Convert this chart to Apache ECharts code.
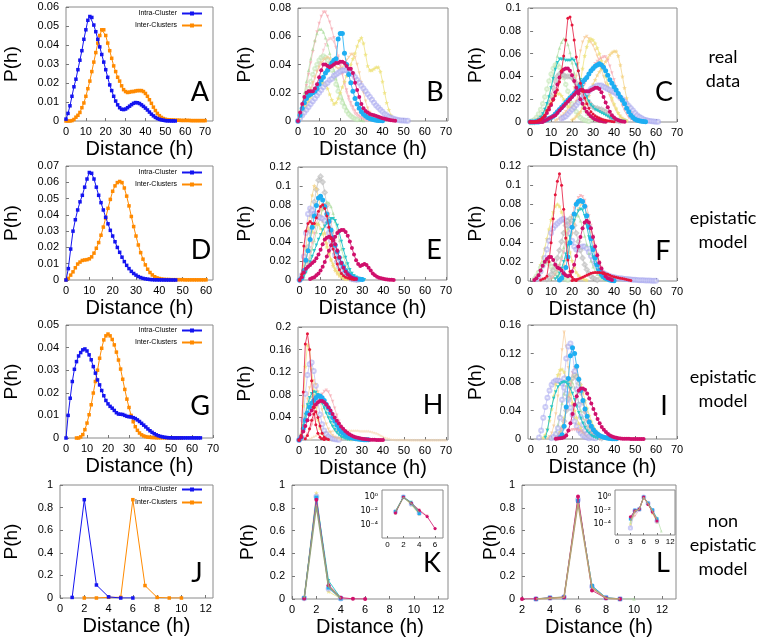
<!DOCTYPE html>
<html><head><meta charset="utf-8">
<script src="https://cdn.jsdelivr.net/npm/echarts@6/dist/echarts.min.js"></script>
<style>html,body{margin:0;padding:0;background:#fff}#c{width:760px;height:639px}</style>
</head><body><div id="c"></div>
<script>
// ---------- DATA ----------
const A_intra=[0.001,0.004,0.008,0.013,0.018,0.022,0.027,0.032,0.037,0.043,0.048,0.053,0.055,0.0545,0.0505,0.047,0.043,0.039,0.035,0.031,0.027,0.023,0.019,0.016,0.013,0.0105,0.0085,0.007,0.0062,0.006,0.0063,0.007,0.0078,0.0086,0.0093,0.0097,0.0096,0.0092,0.0085,0.0077,0.0068,0.0058,0.0047,0.0036,0.0027,0.0019,0.0013,0.0009,0.0006,0.0004,0.0002,0.0001,0.0001,0.00005,0.00005,0.00003];
const A_inter=[0,0,0,0.0002,0.0008,0.002,0.003,0.0045,0.007,0.0095,0.013,0.017,0.021,0.026,0.031,0.036,0.041,0.045,0.048,0.048,0.045,0.041,0.037,0.033,0.029,0.026,0.023,0.021,0.0185,0.0165,0.0155,0.015,0.0152,0.0155,0.0155,0.0158,0.016,0.016,0.016,0.0155,0.0145,0.013,0.0112,0.0093,0.0073,0.0055,0.004,0.0028,0.0019,0.0013,0.0009,0.0007,0.0006,0.0005,0.0005,0.0004,0.0004,0.0004,0.0003,0.0003,0.0003,0.0003,0.0003,0.0002,0.0002,0.0002,0.0002,0.0002,0.0002,0.0002,0.0002];
const D_intra=[0,0.007,0.019,0.03,0.037,0.043,0.048,0.052,0.057,0.062,0.066,0.0655,0.062,0.057,0.052,0.0475,0.043,0.0385,0.0345,0.0305,0.027,0.0235,0.02,0.017,0.014,0.0113,0.009,0.007,0.0053,0.004,0.003,0.0021,0.0015,0.001,0.0007,0.0005,0.0003,0.0002,0.0001,0.0001,0.00005,0.00005,0.00003,0.00003,0.00002,0.00002,0.00001,0.00001];
const D_inter=[0,0.001,0.003,0.005,0.0075,0.0098,0.011,0.012,0.0123,0.0125,0.013,0.0142,0.0165,0.0195,0.023,0.0275,0.0325,0.038,0.044,0.0495,0.0545,0.0578,0.0598,0.0605,0.0598,0.0565,0.0515,0.0455,0.039,0.0328,0.027,0.0215,0.0168,0.0128,0.0093,0.0066,0.0046,0.0031,0.002,0.0013,0.0009,0.0006,0.0004,0.0003,0.0003,0.0002,0.0002,0.0002,0.0002,0.0002,0.0002,0.0001,0.0001,0.0001,0.0001,0.0001,0.0001,0.0001,0.0001,0.0001,0.0001];
const G_intra=[0,0.01,0.0176,0.025,0.0304,0.0338,0.0363,0.0378,0.039,0.0394,0.0385,0.0368,0.0346,0.0316,0.0287,0.0257,0.0235,0.021,0.0187,0.0166,0.0151,0.014,0.0132,0.0122,0.0112,0.0106,0.0105,0.0104,0.01,0.0096,0.0094,0.0093,0.009,0.0086,0.008,0.0073,0.0065,0.0057,0.0049,0.004,0.0032,0.0025,0.0019,0.0014,0.001,0.0007,0.0005,0.0003,0.0002,0.0001,0.0001,0.00005,0.00005,0.00005,0.00005,0.00005,0.00005,0.00005,0.00005,0.00005,0.00005,0.00005,0.00005,0.00005,0.00005];
const G_inter=[0,0,0.0005,0.0015,0.0037,0.0066,0.0103,0.0147,0.0199,0.025,0.03,0.0353,0.0397,0.0434,0.0452,0.046,0.0452,0.0436,0.0412,0.038,0.0345,0.0305,0.026,0.0215,0.0172,0.0135,0.01,0.0072,0.005,0.0034,0.0022,0.0014,0.0009,0.0006,0.0004,0.0003,0.0002,0.0002,0.0001,0.0001,0.0001,0.0001,0.0001,0.0001,0.0001,0.0001,0.0001,0.0001,0.0001,0.0001,0.0001];
const J_intra=[0.005,0.87,0.115,0.01,0,0];
const J_inter=[0,0,0.006,0.006,0.87,0.11,0.005,0,0];

const B_pink=[0,0.004,0.01,0.017,0.025,0.033,0.041,0.049,0.056,0.063,0.069,0.074,0.077,0.077,0.074,0.07,0.065,0.059,0.052,0.045,0.039,0.033,0.027,0.022,0.017,0.013,0.01,0.007,0.005,0.0035,0.0025,0.0017,0.0012,0.0008,0.0005,0.0003,0.0002,0.0001];
const B_rose=[0,0.002,0.005,0.008,0.012,0.016,0.02,0.025,0.03,0.035,0.04,0.045,0.05,0.054,0.057,0.058,0.058,0.056,0.052,0.046,0.04,0.033,0.026,0.02,0.015,0.011,0.008,0.005,0.0035,0.0022,0.0014,0.0008,0.0005,0.0003];
const B_green=[0,0.005,0.012,0.02,0.028,0.036,0.044,0.051,0.057,0.062,0.065,0.065,0.063,0.059,0.054,0.048,0.042,0.036,0.03,0.025,0.02,0.016,0.012,0.009,0.0065,0.0045,0.003,0.002,0.0013,0.0008,0.0005,0.0003];
const B_green2=[0,0.003,0.008,0.013,0.018,0.023,0.028,0.033,0.037,0.04,0.043,0.045,0.046,0.045,0.043,0.04,0.036,0.031,0.026,0.021,0.017,0.013,0.01,0.007,0.005,0.0035,0.0025,0.0015,0.001];
const B_orange=[0,0.003,0.007,0.011,0.015,0.019,0.023,0.027,0.031,0.035,0.038,0.041,0.043,0.044,0.045,0.044,0.042,0.04,0.038,0.037,0.037,0.038,0.04,0.043,0.045,0.047,0.047,0.045,0.04,0.034,0.027,0.02,0.014,0.009,0.006,0.004,0.0025,0.0015,0.001,0.0005];
const B_yellow=[0,0.002,0.005,0.008,0.011,0.014,0.017,0.02,0.022,0.024,0.026,0.027,0.027,0.026,0.023,0.019,0.015,0.012,0.013,0.016,0.02,0.024,0.028,0.032,0.036,0.04,0.044,0.048,0.053,0.057,0.059,0.055,0.047,0.039,0.036,0.036,0.037,0.038,0.038,0.035,0.028,0.02,0.013,0.008,0.004,0.002,0.001];
const B_lav=[0,0.002,0.004,0.006,0.008,0.01,0.012,0.014,0.016,0.018,0.02,0.022,0.024,0.026,0.027,0.029,0.03,0.032,0.033,0.034,0.035,0.036,0.036,0.036,0.035,0.034,0.033,0.031,0.029,0.027,0.025,0.023,0.021,0.019,0.017,0.015,0.013,0.011,0.0095,0.008,0.0065,0.005,0.004,0.003,0.0023,0.0017,0.0012,0.0009,0.0006,0.0004,0.0003,0.0002,0.0001];
const B_mag=[0,0.006,0.012,0.017,0.02,0.021,0.021,0.021,0.023,0.026,0.031,0.036,0.04,0.04,0.039,0.038,0.039,0.04,0.041,0.041,0.042,0.042,0.041,0.039,0.037,0.037,0.034,0.027,0.022,0.017,0.012,0.009,0.007,0.006,0.005,0.0045,0.004,0.0035,0.003,0.0025,0.002,0.0016,0.0012,0.0009,0.0006,0.0003,0.0001];
const B_cyan=[0,0.004,0.009,0.013,0.016,0.018,0.019,0.02,0.021,0.023,0.026,0.029,0.031,0.034,0.036,0.039,0.041,0.043,0.044,0.058,0.062,0.062,0.048,0.04,0.033,0.027,0.021,0.016,0.012,0.009,0.0065,0.0048,0.0035,0.0025,0.0018,0.0013,0.0009,0.0006,0.0004,0.0003,0.0002];

const C_green=[0,0,0,0.001,0.002,0.004,0.007,0.011,0.016,0.023,0.031,0.04,0.05,0.058,0.065,0.07,0.073,0.072,0.068,0.061,0.052,0.043,0.034,0.026,0.019,0.014,0.01,0.007,0.005,0.0035,0.0025,0.0017,0.0011,0.0007,0.0004,0.0002];
const C_green2=[0,0.001,0.002,0.004,0.007,0.011,0.016,0.022,0.029,0.036,0.042,0.047,0.05,0.05,0.048,0.044,0.039,0.033,0.027,0.021,0.016,0.012,0.009,0.006,0.004,0.0025,0.0015,0.001,0.0005];
const C_gray=[0,0,0,0.001,0.002,0.003,0.005,0.008,0.012,0.017,0.023,0.03,0.036,0.04,0.042,0.042,0.041,0.04,0.04,0.04,0.039,0.037,0.034,0.031,0.028,0.025,0.022,0.019,0.017,0.015,0.013,0.012,0.012,0.011,0.011,0.01,0.009,0.007,0.005,0.0035,0.0025,0.0015,0.001,0.0005];
const C_orange=[0.001,0.002,0.003,0.005,0.007,0.009,0.012,0.016,0.022,0.03,0.04,0.051,0.062,0.07,0.074,0.075,0.073,0.07,0.067,0.063,0.058,0.052,0.046,0.04,0.034,0.028,0.023,0.018,0.014,0.01,0.007,0.005,0.003,0.002,0.001];
const C_yellow=[0.001,0.003,0.006,0.01,0.014,0.018,0.021,0.024,0.025,0.025,0.023,0.02,0.017,0.014,0.013,0.013,0.014,0.018,0.025,0.035,0.047,0.058,0.066,0.071,0.073,0.072,0.069,0.065,0.06,0.054,0.047,0.04,0.033,0.027,0.021,0.016,0.012,0.008,0.005,0.003,0.002,0.001];
const C_gold=[0.002,0.003,0.005,0.007,0.009,0.012,0.015,0.019,0.023,0.028,0.033,0.037,0.041,0.044,0.047,0.05,0.053,0.056,0.059,0.061,0.062,0.062,0.058,0.05,0.04,0.03,0.021,0.014,0.009,0.005,0.003,0.002,0.001];
const C_pink=[0.002,0.003,0.005,0.007,0.009,0.012,0.015,0.018,0.021,0.025,0.029,0.033,0.037,0.041,0.045,0.048,0.051,0.053,0.055,0.056,0.057,0.057,0.054,0.049,0.043,0.037,0.031,0.025,0.019,0.014,0.01,0.007,0.004,0.0025,0.0015,0.001];
const C_lav=[0.003,0.004,0.005,0.007,0.009,0.011,0.013,0.015,0.017,0.019,0.021,0.023,0.025,0.027,0.029,0.03,0.031,0.032,0.032,0.032,0.031,0.03,0.029,0.028,0.027,0.026,0.025,0.023,0.021,0.02,0.018,0.016,0.014,0.012,0.01,0.008,0.006,0.0045,0.0035,0.0025,0.0018,0.0013,0.0009,0.0006,0.0004,0.0003,0.0002];
const C_teal=[0,0,0,0.001,0.002,0.004,0.007,0.011,0.016,0.022,0.03,0.038,0.046,0.052,0.055,0.055,0.055,0.054,0.054,0.054,0.055,0.054,0.05,0.044,0.037,0.031,0.026,0.022,0.018,0.015,0.013,0.011,0.01,0.009,0.008,0.007,0.006,0.005,0.004,0.003,0.0025,0.002,0.0015,0.001,0.0007,0.0005];
const C_mag1=[0,0,0,0,0.001,0.002,0.003,0.005,0.008,0.011,0.015,0.02,0.026,0.033,0.039,0.044,0.046,0.047,0.047,0.045,0.041,0.036,0.03,0.025,0.02,0.016,0.012,0.009,0.007,0.005,0.0035,0.0025,0.0018,0.0012,0.0008,0.0005,0.0003];
const C_mag2=[0,0,0,0,0,0,0,0.001,0.002,0.003,0.004,0.005,0.006,0.008,0.01,0.012,0.014,0.016,0.018,0.02,0.022,0.024,0.026,0.027,0.028,0.028,0.027,0.027,0.027,0.028,0.029,0.03,0.03,0.029,0.026,0.022,0.017,0.013,0.009,0.006,0.004,0.0025,0.0015,0.0009,0.0005,0.0003];
const C_cyan=[0,0,0,0,0,0.0005,0.001,0.0015,0.002,0.003,0.004,0.005,0.007,0.009,0.011,0.013,0.015,0.017,0.019,0.021,0.023,0.025,0.027,0.03,0.033,0.035,0.037,0.039,0.042,0.045,0.047,0.049,0.05,0.051,0.05,0.048,0.045,0.041,0.037,0.034,0.031,0.028,0.025,0.022,0.019,0.016,0.012,0.009,0.006,0.004,0.0025,0.0015,0.001,0.0006,0.0004,0.0002];
const C_red=[0,0,0,0.0005,0.001,0.002,0.004,0.006,0.01,0.013,0.016,0.019,0.023,0.028,0.035,0.045,0.058,0.072,0.091,0.092,0.085,0.072,0.057,0.045,0.034,0.027,0.021,0.016,0.012,0.009,0.007,0.0055,0.0044,0.0035,0.0027,0.002,0.0015,0.0011,0.0008,0.0005,0.0003];

const E_gray=[0,0.002,0.008,0.02,0.035,0.052,0.068,0.083,0.096,0.106,0.11,0.104,0.093,0.079,0.064,0.05,0.038,0.028,0.02,0.014,0.0095,0.0065,0.0043,0.0028,0.0018,0.0011,0.0007,0.0004];
const E_gold=[0,0.004,0.015,0.033,0.055,0.075,0.09,0.1,0.097,0.088,0.076,0.063,0.05,0.039,0.029,0.021,0.015,0.01,0.007,0.0045,0.003,0.002,0.001];
const E_green=[0,0.001,0.004,0.009,0.016,0.024,0.033,0.042,0.051,0.06,0.068,0.075,0.08,0.083,0.082,0.078,0.071,0.062,0.052,0.042,0.033,0.025,0.018,0.013,0.009,0.006,0.004,0.0025,0.0015,0.001];
const E_lav=[0,0.005,0.025,0.05,0.07,0.076,0.074,0.07,0.068,0.067,0.066,0.065,0.063,0.058,0.05,0.042,0.034,0.026,0.019,0.014,0.01,0.007,0.005,0.0033,0.0022,0.0014,0.0009,0.0005,0.0003];
const E_pink=[0,0.002,0.006,0.012,0.02,0.029,0.039,0.049,0.059,0.068,0.075,0.079,0.08,0.077,0.07,0.061,0.051,0.041,0.032,0.024,0.017,0.012,0.008,0.005,0.003,0.002,0.001];
const E_yellow=[0,0.003,0.01,0.02,0.031,0.042,0.051,0.057,0.06,0.059,0.055,0.049,0.042,0.035,0.028,0.022,0.017,0.012,0.009,0.006,0.004,0.0025,0.0015,0.001];
const E_teal=[0,0.001,0.004,0.008,0.013,0.019,0.025,0.031,0.037,0.043,0.048,0.053,0.057,0.06,0.063,0.065,0.065,0.063,0.058,0.05,0.041,0.032,0.024,0.017,0.011,0.007,0.0045,0.0028,0.0017,0.001,0.0006,0.0003];
const E_cyan=[0,0.002,0.01,0.021,0.031,0.043,0.056,0.068,0.079,0.087,0.089,0.085,0.078,0.07,0.062,0.053,0.045,0.037,0.03,0.024,0.018,0.014,0.01,0.007,0.005,0.0035,0.0025,0.0017,0.0011,0.0007,0.0004];
const E_mag1=[0,0.003,0.008,0.012,0.014,0.016,0.018,0.02,0.023,0.027,0.032,0.038,0.043,0.045,0.046,0.045,0.043,0.038,0.031,0.024,0.018,0.013,0.009,0.006,0.004,0.0025,0.0015,0.001];
const E_mag2=[0.001,0.002,0.003,0.005,0.007,0.01,0.014,0.019,0.025,0.031,0.037,0.042,0.046,0.05,0.052,0.053,0.053,0.051,0.047,0.041,0.034,0.027,0.021,0.017,0.015,0.016,0.017,0.016,0.013,0.01,0.007,0.005,0.0035,0.0025,0.0018,0.0012,0.0008,0.0005,0.0003,0.0002,0.0001];
const E_red=[0,0.006,0.036,0.052,0.06,0.062,0.06,0.06,0.066,0.073,0.078,0.08,0.076,0.068,0.056,0.044,0.033,0.024,0.017,0.011,0.007,0.0045,0.003,0.002,0.0012,0.0008,0.0005];

const F_yellow=[0.002,0.005,0.01,0.017,0.025,0.034,0.044,0.054,0.064,0.072,0.078,0.08,0.078,0.072,0.063,0.052,0.041,0.03,0.021,0.014,0.009,0.006,0.004,0.0025,0.0015,0.001];
const F_lav=[0.002,0.005,0.01,0.016,0.024,0.033,0.042,0.05,0.055,0.058,0.06,0.062,0.064,0.065,0.063,0.058,0.05,0.042,0.036,0.033,0.033,0.035,0.036,0.036,0.034,0.03,0.026,0.022,0.018,0.015,0.012,0.01,0.008,0.007,0.006,0.005,0.0045,0.004,0.0035,0.003,0.0028,0.0025,0.0022,0.002,0.0018,0.0016,0.0014,0.0012,0.001,0.0009,0.0008,0.0007,0.0006,0.0005,0.0004,0.0003,0.0002,0.0002];
const F_green2=[0.002,0.005,0.009,0.014,0.018,0.02,0.02,0.018,0.015,0.012,0.009,0.007,0.005,0.004,0.003,0.002,0.001];
const F_green=[0.002,0.004,0.007,0.012,0.018,0.026,0.035,0.045,0.055,0.063,0.068,0.07,0.07,0.068,0.063,0.056,0.047,0.038,0.029,0.021,0.015,0.01,0.007,0.0045,0.003,0.002,0.001];
const F_gray=[0.002,0.004,0.007,0.011,0.017,0.024,0.032,0.041,0.05,0.058,0.063,0.065,0.063,0.058,0.05,0.041,0.032,0.024,0.017,0.012,0.008,0.005,0.003,0.002,0.001];
const F_orange=[0.002,0.004,0.007,0.011,0.016,0.022,0.03,0.039,0.049,0.059,0.068,0.075,0.079,0.08,0.077,0.07,0.061,0.05,0.04,0.03,0.022,0.015,0.01,0.006,0.004,0.002,0.001];
const F_pink=[0.002,0.004,0.007,0.011,0.016,0.022,0.03,0.039,0.049,0.059,0.068,0.076,0.082,0.087,0.089,0.088,0.084,0.077,0.068,0.058,0.047,0.037,0.028,0.02,0.014,0.009,0.006,0.004,0.0025,0.0015,0.001];
const F_teal=[0.002,0.004,0.008,0.013,0.02,0.028,0.037,0.046,0.055,0.063,0.069,0.073,0.075,0.074,0.068,0.058,0.046,0.035,0.025,0.017,0.011,0.007,0.004,0.0025,0.0015,0.001];
const F_cyan=[0.001,0.003,0.007,0.014,0.025,0.04,0.056,0.07,0.08,0.083,0.084,0.083,0.078,0.068,0.056,0.044,0.033,0.024,0.017,0.011,0.007,0.0045,0.003,0.002,0.001,0.0006,0.0003];
const F_mag=[0.001,0.003,0.006,0.011,0.016,0.02,0.023,0.025,0.025,0.022,0.017,0.014,0.013,0.011,0.008,0.006,0.005,0.006,0.01,0.017,0.026,0.036,0.046,0.055,0.061,0.063,0.061,0.055,0.046,0.036,0.027,0.019,0.013,0.008,0.005,0.003,0.002,0.001];
const F_red=[0.001,0.002,0.003,0.005,0.02,0.04,0.065,0.09,0.104,0.112,0.1,0.075,0.045,0.022,0.01,0.004,0.0015,0.0005];
const F_red2=[0.0005,0.001,0.0015,0.002,0.003,0.004,0.005,0.006,0.007,0.008,0.0085,0.009,0.009,0.009,0.0085,0.008,0.0075,0.007,0.006,0.005,0.0045,0.004,0.0035,0.003,0.0025,0.002,0.0015,0.001,0.0005];

const H_paleor=[0.002,0.004,0.006,0.008,0.01,0.011,0.012,0.013,0.014,0.015,0.016,0.016,0.017,0.017,0.017,0.017,0.017,0.017,0.017,0.017,0.017,0.017,0.017,0.017,0.016,0.016,0.016,0.016,0.016,0.015,0.014,0.013,0.012,0.01,0.008,0.006,0.004,0.003,0.002,0.001,0.0008,0.0006,0.0005,0.0004,0.0004,0.0003,0.0003,0.0003,0.0002,0.0002,0.0002,0.0002,0.0002,0.0002,0.0002,0.0002,0.0002,0.0002,0.0002,0.0002,0.0002,0.0002,0.0002,0.0002,0.0002,0.0002];
const H_pink=[0.002,0.005,0.01,0.017,0.026,0.037,0.05,0.062,0.073,0.081,0.086,0.088,0.085,0.078,0.068,0.056,0.044,0.033,0.024,0.017,0.011,0.007,0.0045,0.003,0.002,0.001];
const H_yellow=[0,0.01,0.06,0.13,0.168,0.16,0.125,0.088,0.058,0.036,0.021,0.012,0.007,0.004,0.002,0.001];
const H_lav=[0,0.005,0.035,0.082,0.115,0.134,0.137,0.122,0.096,0.068,0.045,0.028,0.017,0.01,0.006,0.0035,0.002,0.0012,0.0007,0.0004];
const H_orange=[0,0.004,0.02,0.045,0.072,0.092,0.103,0.105,0.098,0.085,0.069,0.053,0.039,0.028,0.019,0.013,0.008,0.005,0.003,0.002,0.001];
const H_green=[0,0.005,0.022,0.042,0.058,0.07,0.077,0.08,0.08,0.078,0.073,0.066,0.058,0.05,0.042,0.034,0.027,0.021,0.016,0.012,0.008,0.006,0.004,0.0025,0.0015,0.001];
const H_teal=[0,0.006,0.025,0.045,0.062,0.075,0.082,0.085,0.084,0.08,0.073,0.065,0.056,0.047,0.039,0.031,0.024,0.018,0.013,0.009,0.006,0.004,0.0025,0.0015,0.001];
const H_cyan=[0,0.005,0.02,0.035,0.048,0.058,0.065,0.07,0.075,0.078,0.078,0.075,0.07,0.063,0.056,0.048,0.04,0.033,0.026,0.02,0.015,0.012,0.009,0.007,0.005,0.004,0.003,0.0022,0.0016,0.0012,0.0008,0.0006,0.0004,0.0003];
const H_mag=[0,0.005,0.015,0.025,0.035,0.045,0.052,0.058,0.063,0.067,0.069,0.069,0.067,0.063,0.058,0.052,0.046,0.04,0.034,0.029,0.024,0.02,0.016,0.013,0.01,0.008,0.006,0.005,0.004,0.003,0.0022,0.0016,0.0012,0.0009,0.0006,0.0004,0.0003,0.0002,0.0001,0.0001,0];
const H_red2=[0.002,0.008,0.02,0.035,0.046,0.05,0.04,0.025,0.012,0.005,0.002,0.001];
const H_red=[0,0.008,0.085,0.17,0.188,0.16,0.105,0.058,0.027,0.012,0.005,0.002,0.001];

const I_orange=[0.001,0.003,0.008,0.018,0.035,0.06,0.09,0.125,0.15,0.13,0.1,0.07,0.046,0.029,0.018,0.011,0.007,0.004,0.0025,0.0015,0.001];
const I_lav2=[0.002,0.012,0.03,0.045,0.058,0.068,0.076,0.08,0.082,0.082,0.081,0.078,0.072,0.064,0.055,0.044,0.034,0.025,0.018,0.012,0.008,0.005,0.003,0.002,0.001];
const I_yellow=[0.002,0.006,0.014,0.026,0.042,0.06,0.077,0.09,0.097,0.098,0.094,0.086,0.075,0.063,0.051,0.04,0.03,0.022,0.016,0.011,0.008,0.005,0.003,0.002,0.001];
const I_yellow2=[0.002,0.005,0.01,0.018,0.03,0.045,0.06,0.074,0.085,0.09,0.09,0.085,0.076,0.065,0.054,0.043,0.033,0.025,0.018,0.013,0.009,0.006,0.004,0.0025,0.0015,0.001];
const I_teal=[0.002,0.012,0.03,0.045,0.057,0.066,0.073,0.077,0.079,0.08,0.079,0.076,0.071,0.064,0.055,0.046,0.037,0.029,0.022,0.016,0.011,0.008,0.005,0.003,0.002,0.001];
const I_green=[0.001,0.004,0.01,0.02,0.034,0.05,0.064,0.075,0.081,0.082,0.079,0.072,0.062,0.051,0.04,0.03,0.022,0.015,0.01,0.0065,0.004,0.0025,0.0015,0.001];
const I_gray=[0.001,0.003,0.007,0.014,0.025,0.04,0.057,0.073,0.085,0.09,0.087,0.078,0.065,0.051,0.038,0.027,0.018,0.012,0.008,0.005,0.003,0.002,0.001];
const I_pink2=[0.001,0.003,0.007,0.014,0.025,0.04,0.058,0.077,0.093,0.1,0.097,0.085,0.069,0.052,0.037,0.025,0.016,0.01,0.006,0.0035,0.002,0.001];
const I_pink=[0.002,0.004,0.007,0.01,0.012,0.013,0.013,0.013,0.012,0.011,0.009,0.007,0.005,0.0035,0.0025,0.0015,0.001];
const I_lav=[0.001,0.003,0.007,0.015,0.03,0.055,0.085,0.113,0.13,0.134,0.12,0.095,0.07,0.048,0.031,0.02,0.012,0.007,0.004,0.0025,0.0015,0.001];
const I_cyan=[0.002,0.006,0.018,0.045,0.085,0.117,0.128,0.12,0.102,0.084,0.068,0.054,0.042,0.032,0.024,0.018,0.013,0.0095,0.007,0.005,0.0035,0.0025,0.0018,0.0012,0.0008,0.0005,0.0003,0.0002];
const I_mag=[0.0003,0.0006,0.001,0.0015,0.0025,0.005,0.012,0.022,0.035,0.048,0.06,0.068,0.071,0.071,0.069,0.064,0.057,0.05,0.042,0.035,0.028,0.022,0.017,0.013,0.01,0.007,0.005,0.0035,0.0025,0.0018,0.0012,0.0008,0.0005,0.0003,0.0002,0.0002,0.0001,0.0001,0.0001,0.0001,0.0001,0.0001,0.0001];

const K_yellow=[0.004,0.93,0.065,0.003];
const K_pink=[0.006,0.85,0.13,0.014,0.002];
const K_lav=[0.007,0.9,0.09,0.005];
const K_teal=[0.006,0.88,0.16,0.008];
const K_sky=[0.008,0.89,0.1,0.004];
const K_mag=[0.005,0.87,0.12,0.011,0.0015,0.00003];
const K_olive=[0.008,0.82,0.11,0.006];

const L_yellow=[0.0001,0.006,0.014,0.88,0.1,0.004,0.0002];
const L_lav=[0.00003,0.009,0.015,0.87,0.11,0.01,0.0003];
const L_green=[0.0002,0.01,0.016,0.85,0.12,0.008,0.001,0.00001];
const L_pink=[0.001,0.0015,0.012,0.87,0.09,0.006,0.0004];
const L_sky=[0.0006,0.011,0.015,0.86,0.115,0.012,0.0006];
const L_mag=[0,0.0012,0.009,0.016,0.9,0.075,0.006,0.0003];
const L_tan=[0.0003,0.008,0.015,0.84,0.1,0.008,0.0005];

// tick values
const T70=[0,10,20,30,40,50,60,70], T60=[0,10,20,30,40,50,60];
const TK12=[0,2,4,6,8,10,12], TL12=[2,4,6,8,10,12];
const Y06=[0,0.01,0.02,0.03,0.04,0.05,0.06], Y07=[0,0.01,0.02,0.03,0.04,0.05,0.06,0.07], Y05=[0,0.01,0.02,0.03,0.04,0.05];
const Y08=[0,0.02,0.04,0.06,0.08], Y10=[0,0.02,0.04,0.06,0.08,0.1], Y12=[0,0.02,0.04,0.06,0.08,0.1,0.12];
const Y20=[0,0.04,0.08,0.12,0.16,0.2], Y16=[0,0.04,0.08,0.12,0.16], Y1=[0,0.2,0.4,0.6,0.8,1];
const TKi=[0,2,4,6], TLi=[0,3,6,9,12];

// ---------- STYLES ----------
const STAR='path://M0,-10L2.9,-4L9.5,-3.1L4.8,1.5L5.9,8.1L0,5L-5.9,8.1L-4.8,1.5L-9.5,-3.1L-2.9,-4Z';
const STY={
  blue:{c:'#1414f0',sym:'rect',sz:3.5,lw:1,z:5},
  orng:{c:'#ff8a00',sym:'rect',sz:3.5,lw:1,z:4},
  pink:{c:'#f5a0aa',sym:'triangle',rot:180,sz:3.5,op:0.6},
  rose:{c:'#f6bcc4',sym:'triangle',rot:180,sz:3.5,op:0.6},
  green:{c:'#a6da98',sym:'triangle',sz:3.5,op:0.6},
  green2:{c:'#c0e6b2',sym:'emptyCircle',sz:3.5,op:0.6},
  yellow:{c:'#ede27a',sym:STAR,sz:4.5,op:0.75},
  gold:{c:'#f4d07c',sym:STAR,sz:4.5,op:0.7},
  orange:{c:'#f7c48a',sym:'triangle',rot:180,sz:3.5,op:0.6},
  paleor:{c:'#f8d8b0',sym:'triangle',sz:3,op:0.55},
  lav:{c:'#a4a4ee',sym:'emptyCircle',sz:4,op:0.55},
  gray:{c:'#b4b4b4',sym:'emptyDiamond',sz:4,op:0.6},
  teal:{c:'#20c4c8',sym:'triangle',rot:180,sz:3.5,z:3,op:0.9},
  sky:{c:'#22aaf0',sym:'rect',sz:4,z:3},
  cyan:{c:'#1eaef2',sym:'circle',sz:5,z:4,lw:0.8},
  mag:{c:'#d0106c',sym:'circle',sz:4,z:5,lw:0.8},
  red:{c:'#e5163c',sym:'circle',sz:3,z:6,lw:0.8},
  olive:{c:'#93a37c',sym:'none',sz:3,lw:1.6,z:7},
  tan:{c:'#b8a274',sym:'none',sz:3,lw:1.6,z:7}
};

// ---------- LAYOUT ----------
const GR=[
 [66,7,147,114],[298,8,150,113],[528,8,149,114],
 [66,166,147,114],[298,167,149,113],[528,166,149,115],
 [66,325,147,113],[298,327,150,113],[528,325,149,114],
 [60,485,153,113],[292,485,156,114],[522,485,154,114],
 [382,490,61,48],[615,490,60,45]
];
const XR=[[0,74,T70],[0,71,T70],[-1,70,T70],[0,63,T60],[-0.8,70.5,T70],[-1,70,T70],[0,70,T70],[-0.5,71,T70],[-1.3,70,T70],[0,12.6,TK12],[0,12.8,TK12],[2,13,TL12],[-0.7,7,TKi],[-0.5,13.1,TLi]];
const YR=[[0.06,Y06],[0.08,Y08],[0.1,Y10],[0.07,Y07],[0.12,Y12],[0.12,Y12],[0.05,Y05],[0.2,Y20],[0.16,Y16],[1,Y1],[1,Y1],[1,Y1]];
const YGAP=[45,44,43,45,44,43,45,44,43,39,35,22];

const FONT="'Liberation Sans', Arial, sans-serif";
const fmt=v=>String(parseFloat((+v).toPrecision(6)));

const grid=GR.map(g=>({left:g[0],top:g[1],width:g[2],height:g[3],show:true,borderColor:'#8a8a8a',borderWidth:1,backgroundColor:'transparent',containLabel:false,outerBoundsMode:'none'}));

const xAxis=XR.map((r,i)=>{
  const inset=i>=12;
  return {type:'value',gridIndex:i,min:r[0],max:r[1],
    axisLine:{show:false},splitLine:{show:false},
    axisTick:{show:true,inside:true,length:inset?2:3,lineStyle:{color:'#777'},customValues:r[2]},
    axisLabel:{customValues:r[2],formatter:fmt,color:'#000',fontSize:inset?8:11,fontFamily:FONT,margin:inset?3:5},
    name:inset?'':'Distance (h)',nameLocation:'middle',nameGap:18,nameMoveOverlap:false,
    nameTextStyle:{fontSize:20,fontFamily:FONT,color:'#000'}};
});
const yAxis=GR.map((g,i)=>{
  if(i>=12){
    const lo=i===12?Math.pow(10,-5.86):Math.pow(10,-5.55), hi=i===12?Math.pow(10,0.94):Math.pow(10,0.97);
    return {type:'log',logBase:10,gridIndex:i,min:lo,max:hi,
      axisLine:{show:false},splitLine:{show:false},minorTick:{show:false},
      axisTick:{show:false},
      axisLabel:{showMinLabel:false,showMaxLabel:false,color:'#000',fontSize:8,fontFamily:"'DejaVu Sans', sans-serif",margin:4,
        formatter:v=>{const l=Math.log10(v),e=Math.round(l);if(Math.abs(l-e)>0.01||e%2!==0)return '';return '10'+({0:'\u2070','-2':'\u207B\u00B2','-4':'\u207B\u2074'}[e]||'');}}};
  }
  const r=YR[i];
  return {type:'value',gridIndex:i,min:0,max:r[0],
    axisLine:{show:false},splitLine:{show:false},
    axisTick:{show:true,inside:true,length:3,lineStyle:{color:'#777'},customValues:r[1]},
    axisLabel:{customValues:r[1],formatter:fmt,color:'#000',fontSize:11,fontFamily:FONT,margin:7},
    name:'P(h)',nameLocation:'middle',nameGap:YGAP[i],nameMoveOverlap:false,
    nameTextStyle:{fontSize:19,fontFamily:FONT,color:'#000'}};
});

// ---------- SERIES ----------
function mk(gi,key,x0,ys,name,logOnly){
  const s=STY[key];
  let data=ys.map((y,k)=>[x0+k,y]);
  if(logOnly) data=data.filter(d=>d[1]>0);
  return {type:'line',name:name||(key+gi),xAxisIndex:gi,yAxisIndex:gi,data,
    symbol:s.sym,symbolSize:logOnly?Math.max(2.5,s.sz*0.8):s.sz,symbolRotate:s.rot||0,showSymbol:s.sym!=='none',
    lineStyle:{color:s.c,width:s.lw||1,opacity:s.op||1},
    itemStyle:{color:s.c,opacity:s.op||1},
    z:s.z||2,silent:true,animation:false,clip:true,legendHoverLink:false,emphasis:{disabled:true}};
}
const series=[];
[[0,A_intra,0,A_inter,0],[3,D_intra,0,D_inter,0],[6,G_intra,0,G_inter,5],[9,J_intra,1,J_inter,2]].forEach(p=>{
  series.push(mk(p[0],'orng',p[4],p[3],'Inter-Clusters'));
  series.push(mk(p[0],'blue',p[2],p[1],'Intra-Cluster'));
});
const PANELS={
 1:[['pink',0,B_pink],['rose',0,B_rose],['green',0,B_green],['green2',0,B_green2],['orange',0,B_orange],['yellow',0,B_yellow],['lav',0,B_lav],['mag',0,B_mag],['cyan',0,B_cyan]],
 2:[['green',0,C_green],['green2',0,C_green2],['gray',0,C_gray],['orange',12,C_orange],['yellow',5,C_yellow],['gold',20,C_gold],['pink',15,C_pink],['lav',15,C_lav],['teal',0,C_teal],['mag',0,C_mag1],['mag',0,C_mag2],['cyan',0,C_cyan],['red',0,C_red]],
 4:[['gray',0,E_gray],['gold',0,E_gold],['green',0,E_green],['lav',0,E_lav],['pink',0,E_pink],['yellow',0,E_yellow],['teal',0,E_teal],['cyan',0,E_cyan],['mag',0,E_mag1],['mag',5,E_mag2],['red',0,E_red]],
 5:[['yellow',2,F_yellow],['lav',3,F_lav],['green2',2,F_green2],['green',10,F_green],['gray',8,F_gray],['orange',12,F_orange],['pink',10,F_pink],['teal',12,F_teal],['cyan',14,F_cyan],['mag',2,F_mag],['red',5,F_red],['red',20,F_red2]],
 7:[['paleor',5,H_paleor],['pink',2,H_pink],['yellow',0,H_yellow],['lav',0,H_lav],['orange',0,H_orange],['green',0,H_green],['teal',0,H_teal],['cyan',0,H_cyan],['mag',0,H_mag],['red',3,H_red2],['red',0,H_red]],
 8:[['orange',8,I_orange],['lav',4,I_lav2],['yellow',6,I_yellow],['yellow',12,I_yellow2],['teal',7,I_teal],['green',10,I_green],['gray',12,I_gray],['pink',12,I_pink2],['pink',15,I_pink],['lav',10,I_lav],['cyan',14,I_cyan],['mag',12,I_mag]],
 10:[['yellow',1,K_yellow],['pink',1,K_pink],['lav',1,K_lav],['teal',1,K_teal],['sky',1,K_sky],['mag',1,K_mag],['olive',1,K_olive]],
 11:[['yellow',3,L_yellow],['lav',3,L_lav],['green',3,L_green],['pink',3,L_pink],['sky',3,L_sky],['mag',2,L_mag],['tan',3,L_tan]]
};
Object.keys(PANELS).forEach(k=>PANELS[k].forEach(s=>series.push(mk(+k,s[0],s[1],s[2]))));
PANELS[10].forEach(s=>series.push(mk(12,s[0],s[1],s[2],null,true)));
PANELS[11].forEach(s=>series.push(mk(13,s[0],s[1],s[2],null,true)));
series.filter(s=>s.xAxisIndex>=12&&s.symbol==='none').forEach(s=>{s.lineStyle.width=1.2;});

// ---------- LEGENDS (left column) ----------
const LEG_ROWS=[[10,22],[169,181],[327,339],[486,499]];
const legend=[];
LEG_ROWS.forEach(r=>{
  [['Intra-Cluster',r[0]],['Inter-Clusters',r[1]]].forEach(it=>{
    legend.push({data:[it[0]],right:557,top:it[1],padding:0,itemWidth:20,itemHeight:5,itemGap:0,
      align:'right',selectedMode:false,textStyle:{fontSize:7,fontFamily:FONT,color:'#000'}});
  });
});

// ---------- TEXT ----------
const LETTERS=[['A',200,92],['B',435,92],['C',664,92],['D',201,250],['E',434,250],['F',663,251],['G',200,406],['H',433,405],['I',664,406],['J',197,573],['K',432,563],['L',663,563]];
const SIDE=[['real\ndata',723,69],['epistatic\nmodel',723,230],['epistatic\nmodel',723,389],['non\nepistatic\nmodel',723,545]];
const graphic=[];
LETTERS.forEach(l=>graphic.push({type:'text',z:50,style:{text:l[0],x:l[1],y:l[2],textAlign:'center',textVerticalAlign:'middle',fontSize:27,fontFamily:"Lato, 'Open Sans', sans-serif",fill:'#000'}}));
SIDE.forEach(s=>graphic.push({type:'text',z:50,style:{text:s[0],x:s[1],y:s[2],textAlign:'center',textVerticalAlign:'middle',fontSize:18,lineHeight:24,fontFamily:"Lato, 'Open Sans', sans-serif",fill:'#000'}}));

const chart=echarts.init(document.getElementById('c'),null,{renderer:'canvas'});
chart.setOption({animation:false,backgroundColor:'#fff',grid,xAxis,yAxis,series,legend,graphic,tooltip:{show:false}});
</script></body></html>
